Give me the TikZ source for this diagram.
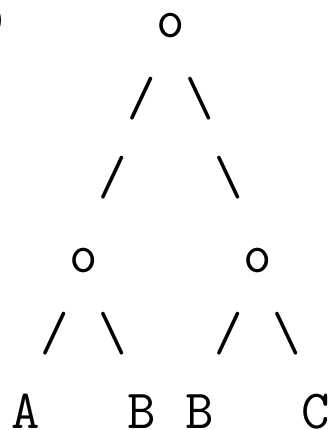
\documentclass[tikz,border=0pt]{standalone}
\usepackage{fontspec}
\begin{document}
\begin{tikzpicture}[x=1pt,y=-1pt,
  ch/.style={anchor=base,inner sep=0pt,outer sep=0pt,font=\ttfamily\fontsize{55.2}{78}\selectfont}]
\useasboundingbox (0,0) rectangle (328,430);
% columns: x = 26 + 29c ; rows: baseline y = 38 + 78r
\node[ch] (paren) at (-3,38) {)};
\node[ch] (root) at (171,38) {o};
\node[ch] (s1l) at (142,116) {/};
\node[ch] (s1r) at (200,116) {\textbackslash};
\node[ch] (s2l) at (113,194) {/};
\node[ch] (s2r) at (229,194) {\textbackslash};
\node[ch] (nl) at (84,272) {o};
\node[ch] (nr) at (258,272) {o};
\node[ch] (s3a) at (55,350) {/};
\node[ch] (s3b) at (113,350) {\textbackslash};
\node[ch] (s3c) at (229,350) {/};
\node[ch] (s3d) at (287,350) {\textbackslash};
\node[ch] (la) at (26,428) {A};
\node[ch] (lb1) at (142,428) {B};
\node[ch] (lb2) at (200,428) {B};
\node[ch] (lc) at (316,428) {C};
\end{tikzpicture}
\end{document}
